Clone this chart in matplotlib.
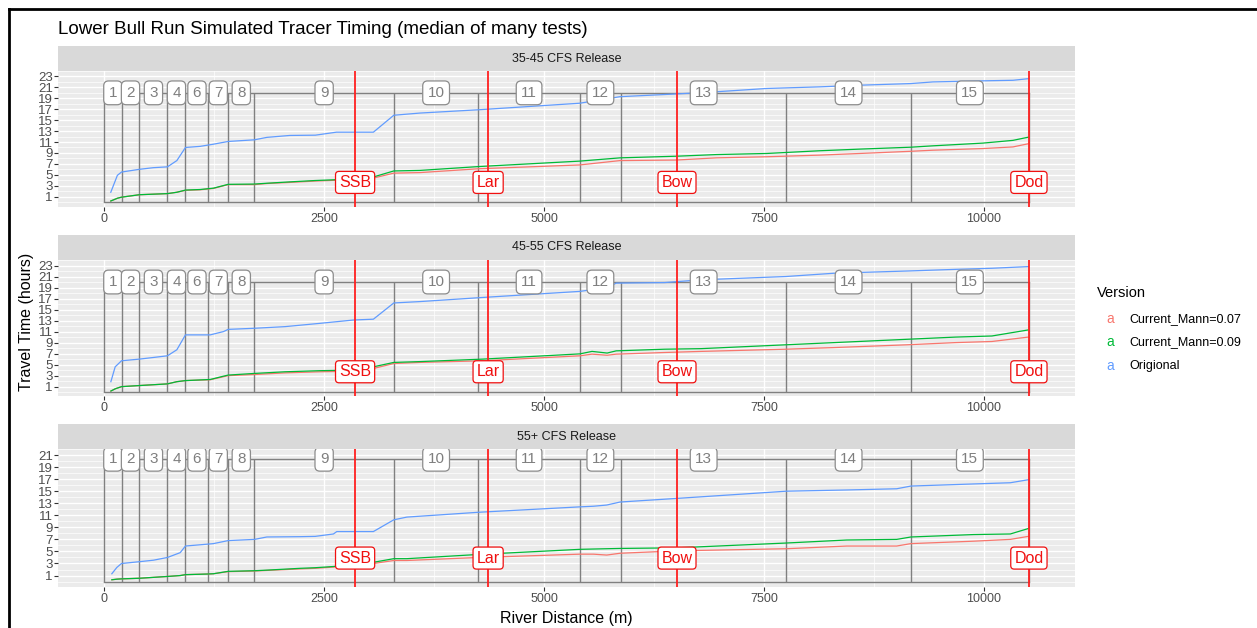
import numpy as np
import matplotlib
matplotlib.use('Agg')
import matplotlib.pyplot as plt
from matplotlib.lines import Line2D

plt.rcParams['font.family'] = ['Liberation Sans', 'DejaVu Sans']

## chart text
title = "Lower Bull Run Simulated Tracer Timing (median of many tests)"
facets = ["35-45 CFS Release", "45-55 CFS Release", "55+ CFS Release"]
versions = ["Current_Mann=0.07", "Current_Mann=0.09", "Origional"]
colors = ["#F8766D", "#00BA38", "#619CFF"]

## reach boundaries along the river (m) and their labels
reach_breaks = [0, 197, 401, 719, 924, 1185, 1409, 1708, 3292, 4254, 5405, 5875, 7753, 9170, 10510]
reach_names = ["1", "2", "3", "4", "6", "7", "8", "9", "10", "11", "12", "13", "14", "15"]
reach_top = [20, 20, 20.3]

## gauge sites
site_dist = [2852, 4364, 6511, 10511]
site_names = ["SSB", "Lar", "Bow", "Dod"]
site_y = [3.6, 3.7, 3.9]

## 35-45 cfs release
dist_35 = [75, 150, 197, 401, 560, 719, 826, 924, 1090, 1242, 1409, 1708, 1850, 2110, 2400, 2640,
           3060, 3292, 3590, 4254, 5405, 5864, 6508, 6960, 7530, 8136, 8590, 9170, 9420, 9990, 10330, 10510]
mann07_35 = [0.2, 0.7, 0.9, 1.35, 1.45, 1.55, 1.8, 2.15, 2.25, 2.5, 3.2, 3.2, 3.4, 3.6, 3.85, 4.0,
             4.4, 5.3, 5.4, 6.1, 6.8, 7.6, 7.7, 8.1, 8.3, 8.6, 8.9, 9.3, 9.5, 9.8, 10.1, 10.7]
mann09_35 = [0.2, 0.7, 0.9, 1.35, 1.45, 1.55, 1.8, 2.2, 2.3, 2.55, 3.25, 3.3, 3.45, 3.7, 3.95, 4.1,
             4.6, 5.7, 5.8, 6.5, 7.5, 8.1, 8.4, 8.7, 8.9, 9.4, 9.7, 10.05, 10.3, 10.8, 11.3, 11.9]
orig_35 = [1.8, 4.9, 5.5, 6.0, 6.3, 6.45, 7.6, 10.0, 10.2, 10.6, 11.1, 11.4, 11.85, 12.2, 12.25, 12.8,
           12.8, 15.9, 16.3, 16.9, 18.1, 19.3, 19.8, 20.2, 20.8, 21.1, 21.4, 21.7, 22.0, 22.2, 22.3, 22.6]

## 45-55 cfs release
dist_45 = [76, 125, 197, 401, 561, 719, 826, 924, 1205, 1356, 1409, 1708, 2057, 2455, 2833, 3060,
           3292, 3591, 4306, 5407, 5545, 5717, 5820, 6370, 6784, 7749, 8300, 9127, 9677, 10091, 10504]
mann07_45 = [0.2, 0.6, 1.0, 1.2, 1.35, 1.5, 1.9, 2.1, 2.25, 2.8, 3.0, 3.2, 3.5, 3.7, 3.8, 4.3,
             5.2, 5.4, 5.7, 6.6, 6.9, 6.7, 6.9, 7.2, 7.4, 7.8, 8.1, 8.6, 9.0, 9.2, 10.0]
mann09_45 = [0.2, 0.6, 1.0, 1.2, 1.35, 1.5, 1.9, 2.1, 2.3, 2.9, 3.1, 3.4, 3.7, 3.9, 4.0, 4.6,
             5.4, 5.55, 6.0, 6.95, 7.4, 7.1, 7.5, 7.8, 7.9, 8.6, 9.0, 9.6, 10.0, 10.2, 11.3]
orig_45 = [1.9, 4.6, 5.7, 6.0, 6.3, 6.6, 7.7, 10.4, 10.4, 11.0, 11.4, 11.6, 11.9, 12.5, 13.1, 13.25,
           16.2, 16.45, 17.2, 18.3, 18.6, 19.0, 19.8, 19.9, 20.4, 21.0, 21.6, 22.0, 22.3, 22.5, 22.8]

## 55+ cfs release
dist_55 = [87, 144, 197, 401, 561, 719, 864, 924, 1167, 1242, 1409, 1708, 1849, 2227, 2398, 2606, 2644,
           3060, 3292, 3440, 4254, 5409, 5560, 5712, 5864, 6508, 7757, 8440, 9008, 9170, 9879, 10300, 10504]
mann07_55 = [0.3, 0.4, 0.45, 0.55, 0.7, 0.85, 1.0, 1.15, 1.25, 1.3, 1.65, 1.75, 1.85, 2.1, 2.2, 2.4, 2.45,
             3.0, 3.5, 3.5, 4.0, 4.55, 4.55, 4.4, 4.7, 5.1, 5.45, 5.9, 5.9, 6.3, 6.7, 7.0, 7.5]
mann09_55 = [0.3, 0.4, 0.45, 0.55, 0.7, 0.85, 1.0, 1.15, 1.25, 1.3, 1.7, 1.8, 1.9, 2.2, 2.3, 2.5, 2.55,
             3.2, 3.8, 3.8, 4.5, 5.35, 5.4, 5.45, 5.5, 5.6, 6.4, 6.9, 7.0, 7.4, 7.8, 7.9, 8.8]
orig_55 = [1.3, 2.35, 3.0, 3.3, 3.55, 4.0, 4.8, 5.9, 6.2, 6.3, 6.8, 7.0, 7.4, 7.45, 7.5, 7.9, 8.3,
           8.3, 10.25, 10.7, 11.5, 12.4, 12.5, 12.7, 13.2, 13.8, 15.0, 15.2, 15.4, 15.85, 16.2, 16.4, 16.9]

W, H = 1257, 628


def box(x0, y0, x1, y1):
  ## pixel box (top-left origin) -> figure fraction rect
  return [x0 / W, 1 - y1 / H, (x1 - x0) / W, (y1 - y0) / H]


## one facet: background grid, reach frame, curves, site lines and labels
def drawPanel(ax, i, dist, series, ylim, ymax_tick):
  ax.set_facecolor('#EBEBEB')
  for s in ax.spines.values():
    s.set_visible(False)
  ax.set_xlim(-525, 11035)
  ax.set_ylim(*ylim)
  ax.set_xticks([0, 2500, 5000, 7500, 10000])
  ax.set_xticks([1250, 3750, 6250, 8750], minor=True)
  ax.set_yticks(np.arange(1, ymax_tick + 1, 2))
  ax.set_yticks(np.arange(0, ymax_tick + 2, 2), minor=True)
  ax.grid(which='major', color='white', lw=1.0)
  ax.grid(which='minor', color='white', lw=0.5)
  ax.set_axisbelow(True)
  ax.tick_params(which='major', length=2.8, width=0.8, color='#333333',
                 labelcolor='#4D4D4D', pad=1.5)
  ax.tick_params(axis='x', labelsize=9)
  ax.tick_params(axis='y', labelsize=9.5, pad=1)
  ax.tick_params(which='minor', length=0)

  top = reach_top[i]
  grey = '#808080'
  ax.plot([reach_breaks[0], reach_breaks[-1]], [0, 0], color=grey, lw=1, zorder=2)
  ax.plot([reach_breaks[0], reach_breaks[-1]], [top, top], color=grey, lw=1, zorder=2)
  ax.vlines(reach_breaks, 0, top, color=grey, lw=1, zorder=2)

  for vals, c in zip(series, colors):
    ax.plot(dist, vals, color=c, lw=0.9, zorder=3)

  for d in site_dist:
    ax.axvline(d, color='#FF2020', lw=1.3, zorder=4)

  mids = [(a + b) / 2 for a, b in zip(reach_breaks[:-1], reach_breaks[1:])]
  for m, name in zip(mids, reach_names):
    ax.text(m, top, name, ha='center', va='center', fontsize=11, color='#7F7F7F', zorder=5,
            bbox=dict(boxstyle='round,pad=0.32', fc='white', ec='#8C8C8C', lw=0.9))
  for d, name in zip(site_dist, site_names):
    ax.text(d, site_y[i], name, ha='center', va='center', fontsize=11.5, color='#F01010', zorder=5,
            bbox=dict(boxstyle='round,pad=0.22', fc='white', ec='#F01010', lw=0.9))


if __name__ == '__main__':
  fig = plt.figure(figsize=(W / 100, H / 100), dpi=100)

  panels = [(dist_35, [mann07_35, mann09_35, orig_35]),
            (dist_45, [mann07_45, mann09_45, orig_45]),
            (dist_55, [mann07_55, mann09_55, orig_55])]
  ylims = [(-0.9, 23.7), (-0.7, 24.0), (-0.9, 21.5)]
  ymax_ticks = [23, 23, 21]
  tops = [71, 260, 449]
  bottoms = [207, 396, 587]

  for i, (dist, series) in enumerate(panels):
    ax = fig.add_axes(box(58, tops[i], 1075, bottoms[i]))
    drawPanel(ax, i, dist, series, ylims[i], ymax_ticks[i])
    strip = fig.add_axes(box(58, tops[i] - 25, 1075, tops[i]))
    strip.set_facecolor('#D9D9D9')
    strip.set_xticks([])
    strip.set_yticks([])
    for s in strip.spines.values():
      s.set_visible(False)
    strip.text(0.5, 0.5, facets[i], ha='center', va='center', fontsize=9,
               color='#1A1A1A', transform=strip.transAxes)

  fig.text(58 / W, 1 - 30 / H, title, fontsize=13.5, va='center', color='black')
  fig.text(566 / W, 1 - 619 / H, "River Distance (m)", ha='center', va='center', fontsize=11.5)
  fig.text(27 / W, 1 - 322 / H, "Travel Time (hours)", ha='center', va='center',
           rotation=90, fontsize=11.5)

  ## legend
  fig.text(1097 / W, 1 - 293 / H, "Version", fontsize=10.5, va='center')
  for k in range(3):
    yk = 1 - (319 + 23.5 * k) / H
    fig.text(1110 / W, yk, "a", color=colors[k], fontsize=10, ha='center', va='center')
    fig.text(1129 / W, yk, versions[k], fontsize=9, va='center')

  ## screenshot frame
  fig.add_artist(Line2D([9 / W, 9 / W], [0, 1 - 9 / H], color='black', lw=2, transform=fig.transFigure))
  fig.add_artist(Line2D([9 / W, 1], [1 - 9 / H, 1 - 9 / H], color='black', lw=2, transform=fig.transFigure))

  fig.savefig('out.png', dpi=100, facecolor='white')
